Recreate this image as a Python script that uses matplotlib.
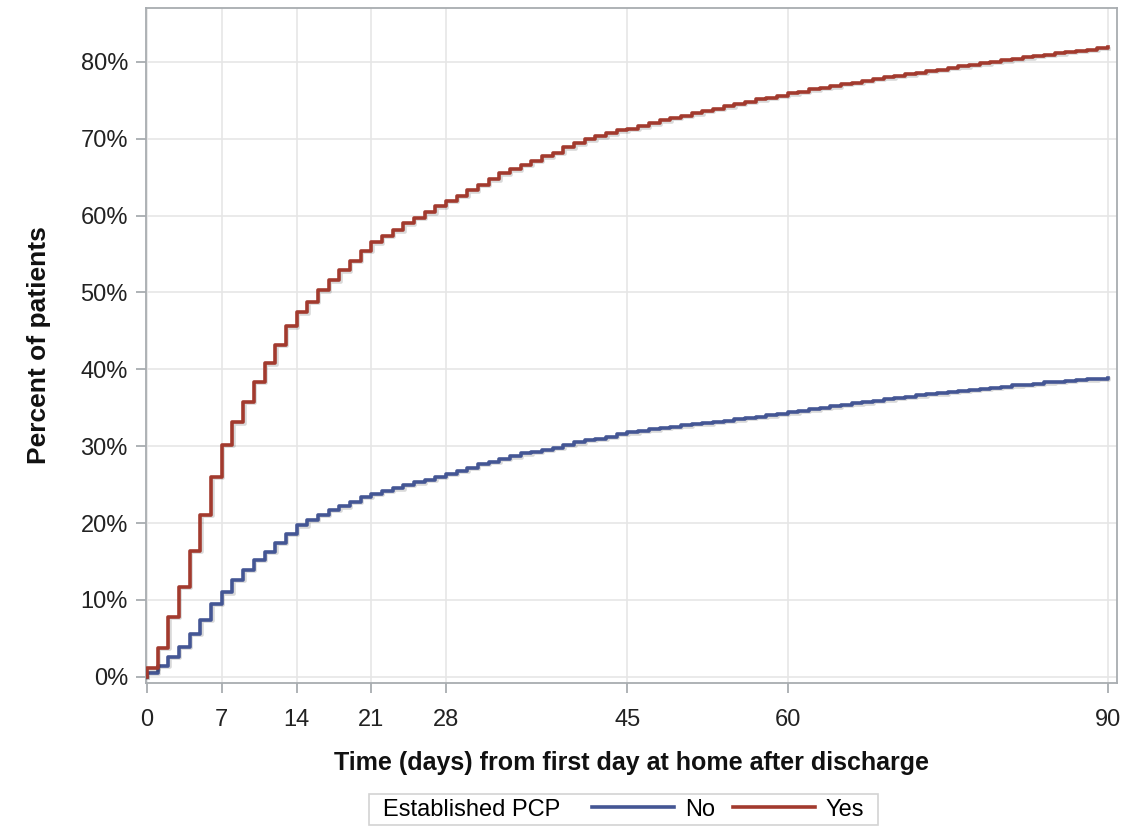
import matplotlib
matplotlib.use('Agg')
import matplotlib.pyplot as plt
import matplotlib.patheffects as pe
from matplotlib.offsetbox import HPacker, DrawingArea
from matplotlib.ticker import FuncFormatter

plt.rcParams['font.family'] = ['Liberation Sans', 'DejaVu Sans']

days = list(range(0, 91))

# cumulative % of patients with a visit, Established PCP = No
pcp_no = [0.5, 1.4, 2.6, 3.9, 5.6, 7.4, 9.5, 11.0, 12.6, 13.9,
          15.2, 16.3, 17.4, 18.6, 19.7, 20.4, 21.1, 21.7, 22.2, 22.8,
          23.4, 23.8, 24.2, 24.5, 25.0, 25.3, 25.6, 26.0, 26.4, 26.8,
          27.2, 27.7, 28.0, 28.4, 28.7, 29.1, 29.3, 29.5, 29.8, 30.2,
          30.5, 30.8, 31.0, 31.2, 31.6, 31.8, 32.0, 32.2, 32.4, 32.5,
          32.7, 32.9, 33.0, 33.2, 33.3, 33.5, 33.7, 33.8, 34.0, 34.2,
          34.4, 34.6, 34.8, 35.0, 35.2, 35.4, 35.6, 35.7, 35.9, 36.1,
          36.3, 36.4, 36.6, 36.8, 36.9, 37.1, 37.2, 37.3, 37.5, 37.6,
          37.7, 37.9, 38.0, 38.1, 38.3, 38.4, 38.5, 38.6, 38.7, 38.8,
          38.9]

# Established PCP = Yes
pcp_yes = [1.1, 3.8, 7.8, 11.7, 16.4, 21.1, 26.0, 30.2, 33.1, 35.8,
           38.4, 40.8, 43.2, 45.6, 47.4, 48.8, 50.3, 51.6, 52.9, 54.1,
           55.4, 56.5, 57.4, 58.1, 59.0, 59.7, 60.4, 61.2, 61.9, 62.6,
           63.3, 64.0, 64.7, 65.5, 66.0, 66.6, 67.1, 67.7, 68.2, 68.9,
           69.4, 69.9, 70.3, 70.7, 71.1, 71.3, 71.6, 72.0, 72.4, 72.7,
           73.0, 73.3, 73.6, 73.9, 74.2, 74.5, 74.8, 75.1, 75.3, 75.6,
           75.9, 76.1, 76.4, 76.6, 76.8, 77.1, 77.3, 77.5, 77.8, 78.0,
           78.2, 78.4, 78.6, 78.8, 79.0, 79.2, 79.4, 79.6, 79.8, 80.0,
           80.2, 80.4, 80.6, 80.8, 80.9, 81.1, 81.3, 81.4, 81.6, 81.8,
           81.9]

xticks = [0, 7, 14, 21, 28, 45, 60, 90]
yticks = [0, 10, 20, 30, 40, 50, 60, 70, 80]

blue = '#445694'
red = '#A23A2E'
gray = '#a8acb0'

fig = plt.figure(figsize=(11.47, 8.26), dpi=100)
ax = fig.add_axes([146/1147, 1-683/826, (1117-146)/1147, (683-8)/826])

shadow = [pe.SimpleLineShadow(offset=(1, -1), alpha=0.15, shadow_color='black'), pe.Normal()]

x = [0] + days
l1, = ax.plot(x, [0] + pcp_no, drawstyle='steps-post', color=blue, lw=2.6,
              label='No', path_effects=shadow, zorder=3)
l2, = ax.plot(x, [0] + pcp_yes, drawstyle='steps-post', color=red, lw=2.6,
              label='Yes', path_effects=shadow, zorder=3)

ax.set_xlim(-0.1, 90.85)
ax.set_ylim(-0.8, 87.0)
ax.set_xticks(xticks)
ax.set_yticks(yticks)
ax.yaxis.set_major_formatter(FuncFormatter(lambda v, p: '%d%%' % v))
ax.grid(True, color='#e6e6e6', lw=1.2)
ax.set_axisbelow(True)
for s in ax.spines.values():
    s.set_color(gray)
    s.set_linewidth(1.3)
ax.tick_params(axis='both', colors=gray, length=7, width=1.3, labelsize=17,
               labelcolor='#222222', pad=6)
ax.tick_params(axis='x', pad=11.5)

ax.set_xlabel('Time (days) from first day at home after discharge',
              fontsize=18, fontweight='bold', color='#111111', labelpad=14.5)
ax.set_ylabel('Percent of patients', fontsize=19, fontweight='bold',
              color='#111111', labelpad=21)

leg = fig.legend(handles=[l1, l2], loc='upper center',
                 bbox_to_anchor=(623.5/1147, 1-794/826), ncol=2,
                 title='Established PCP', fontsize=17, title_fontsize=17,
                 frameon=True, fancybox=False, edgecolor='#c8c8c8',
                 handlelength=3.5, handletextpad=0.45, columnspacing=0.75,
                 borderpad=0.2, borderaxespad=0)
leg.get_frame().set_linewidth(1.2)
for lh in leg.legend_handles:
    lh.set_path_effects([])
# put the title to the left of the entries, as in the SAS legend
inner = HPacker(pad=0, sep=23,
                children=[leg._legend_title_box, leg._legend_handle_box],
                align='center')
new = HPacker(pad=leg._legend_box.pad, sep=0, align='center',
              children=[DrawingArea(6, 1), inner, DrawingArea(6, 1)])
new.set_figure(fig)
new.axes = None
leg._legend_box = new
leg._set_loc(leg._loc)

fig.savefig('out.png', dpi=100)
